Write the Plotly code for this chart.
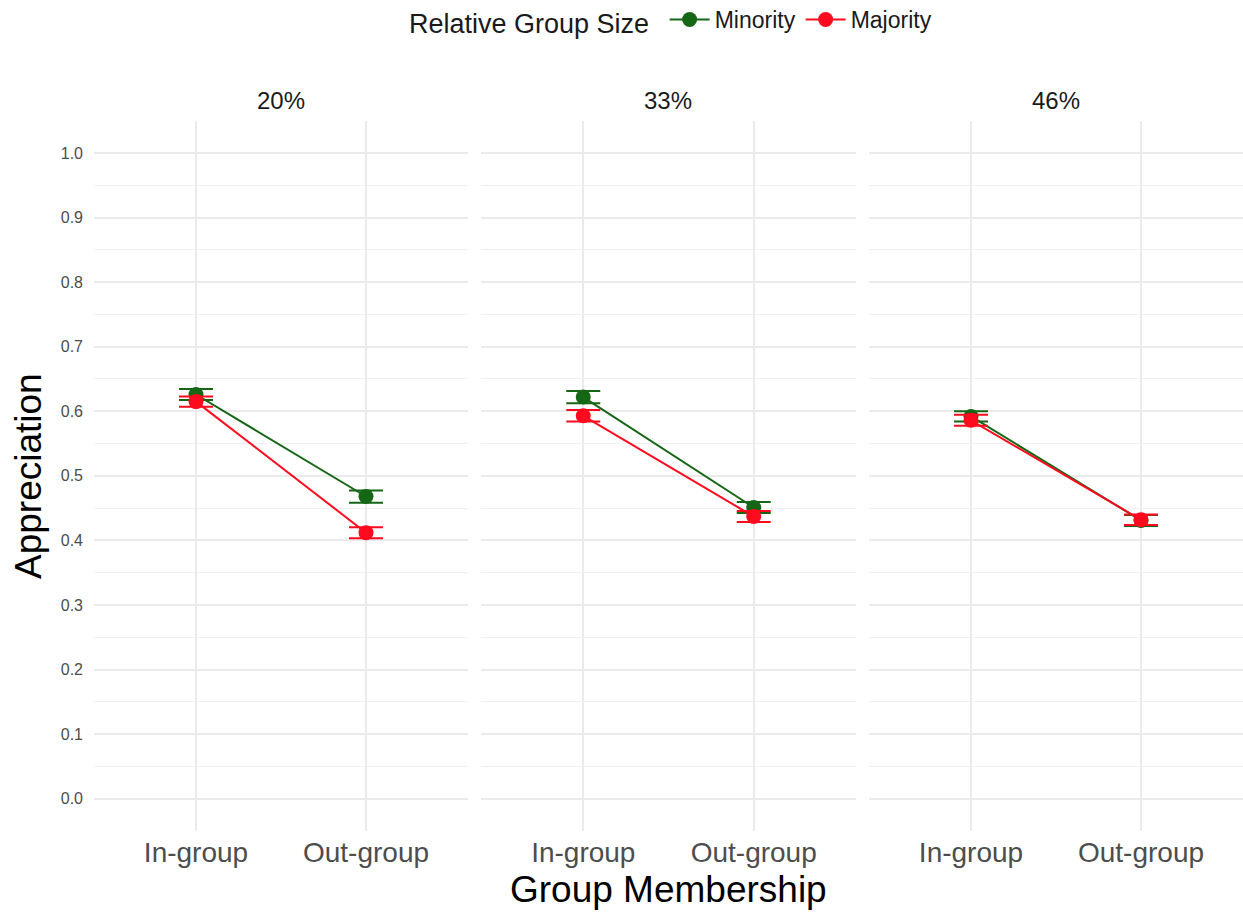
import plotly.graph_objects as go

# Group sizes (facets), membership categories and series
group_sizes = ["20%", "33%", "46%"]
membership = ["In-group", "Out-group"]

minority_mean = {"20%": [0.626, 0.468], "33%": [0.622, 0.451], "46%": [0.592, 0.431]}
minority_se = {"20%": [0.0085, 0.0095], "33%": [0.0095, 0.0085], "46%": [0.008, 0.0085]}
majority_mean = {"20%": [0.615, 0.412], "33%": [0.593, 0.437], "46%": [0.586, 0.432]}
majority_se = {"20%": [0.008, 0.0085], "33%": [0.009, 0.0085], "46%": [0.0085, 0.008]}

y_ticks = [0.0, 0.1, 0.2, 0.3, 0.4, 0.5, 0.6, 0.7, 0.8, 0.9, 1.0]

W, H = 1243, 913
GREEN = "#156615"
RED = "#ff0a1e"

# Panel pixel extents (left, right) and plot area vertical extents
panels_px = [(94, 468), (481, 856), (869, 1243)]
y_top_px, y_bot_px = 120.7, 831
y_dom = [(H - y_bot_px) / H, (H - y_top_px) / H]

fig = go.Figure()

series = [
    ("Minority", minority_mean, minority_se, GREEN),
    ("Majority", majority_mean, majority_se, RED),
]

for i, g in enumerate(group_sizes):
    xa = "x" if i == 0 else f"x{i+1}"
    for name, means, ses, col in series:
        fig.add_trace(go.Scatter(
            x=membership, y=means[g],
            mode="lines+markers",
            name=name,
            legendgroup=name,
            showlegend=(i == 0),
            line=dict(color=col, width=2),
            marker=dict(color=col, size=15),
            error_y=dict(type="data", array=ses[g], color=col,
                         thickness=2, width=17),
            xaxis=xa, yaxis="y" if i == 0 else f"y{i+1}",
            cliponaxis=False,
        ))

layout = dict(
    width=W, height=H,
    margin=dict(l=0, r=0, t=0, b=0, autoexpand=False),
    paper_bgcolor="white", plot_bgcolor="white",
    font=dict(family="Liberation Sans, Arial, sans-serif", color="#1a1a1a"),
    legend=dict(
        orientation="h", x=672 / W, xanchor="center",
        y=(H - 21) / H, yanchor="middle",
        title=dict(text="Relative Group Size ", font=dict(size=27, color="#1a1a1a")),
        font=dict(size=23, color="#1a1a1a"),
        itemwidth=40,
    ),
    annotations=[],
)

for i, g in enumerate(group_sizes):
    l, r = panels_px[i]
    sfx = "" if i == 0 else str(i + 1)
    layout[f"xaxis{sfx}"] = dict(
        domain=[l / W, r / W], anchor=f"y{sfx}",
        type="category", categoryorder="array", categoryarray=membership,
        range=[-0.6, 1.6],
        showgrid=True, gridcolor="#ebebeb", gridwidth=2,
        zeroline=False, showline=False, ticks="",
        tickfont=dict(size=28, color="#4d4d4d"),
        ticklabelstandoff=2,
        fixedrange=True,
    )
    layout[f"yaxis{sfx}"] = dict(
        domain=y_dom, anchor=f"x{sfx}",
        range=[-0.05, 1.05],
        tickvals=y_ticks, ticktext=[f"{v:.1f}" for v in y_ticks],
        showticklabels=(i == 0),
        showgrid=True, gridcolor="#ebebeb", gridwidth=2,
        minor=dict(dtick=0.05, showgrid=True, gridcolor="#f1f1f1", gridwidth=1),
        zeroline=False, showline=False, ticks="",
        tickfont=dict(size=16, color="#4d4d4d"),
        ticklabelstandoff=10,
        fixedrange=True,
    )
    layout["annotations"].append(dict(
        text=g, x=(l + r) / 2 / W, y=(H - 101) / H, xref="paper", yref="paper",
        showarrow=False, font=dict(size=24, color="#1a1a1a"),
        xanchor="center", yanchor="middle",
    ))

layout["annotations"].append(dict(
    text="Group Membership", x=669 / W, y=(H - 889) / H, xref="paper", yref="paper",
    showarrow=False, font=dict(size=37, color="#000000"),
    xanchor="center", yanchor="middle",
))
layout["annotations"].append(dict(
    text="Appreciation", x=28 / W, y=(H - 476) / H, xref="paper", yref="paper",
    showarrow=False, textangle=-90, font=dict(size=37, color="#000000"),
    xanchor="center", yanchor="middle",
))

fig.update_layout(**layout)
fig.write_html("out.html")
